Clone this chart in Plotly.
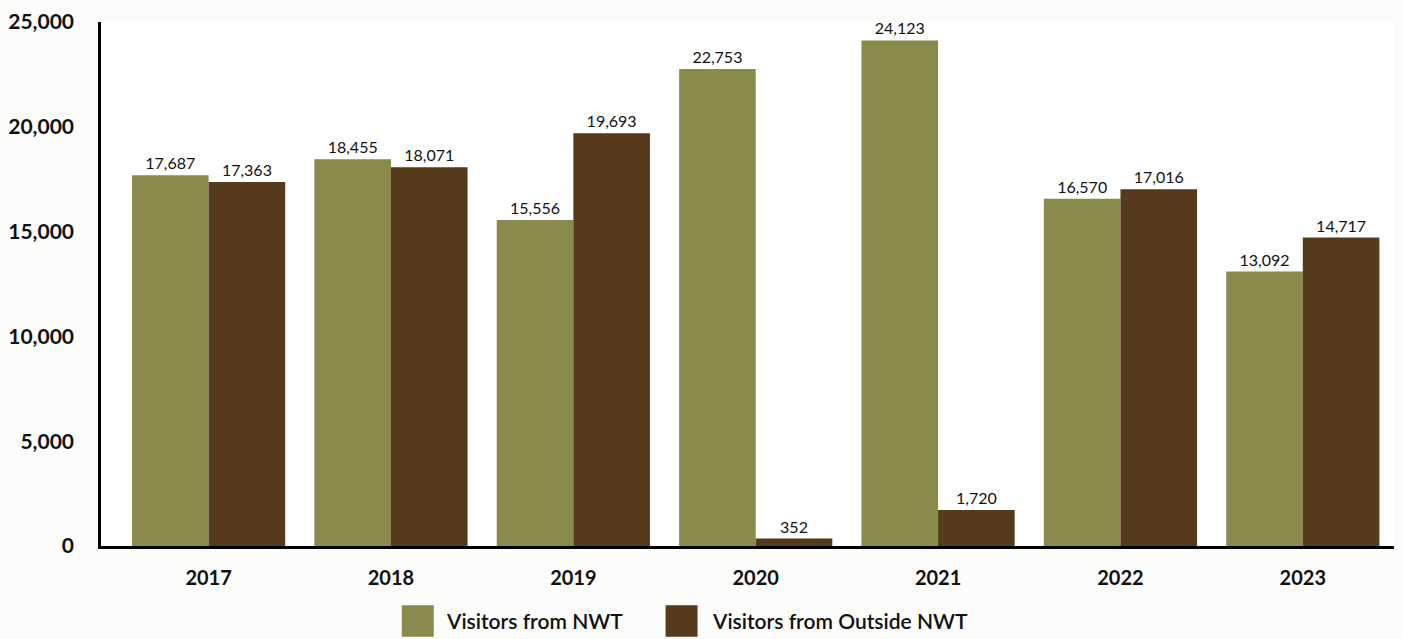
import plotly.graph_objects as go

years = ["2017", "2018", "2019", "2020", "2021", "2022", "2023"]
nwt = [17687, 18455, 15556, 22753, 24123, 16570, 13092]
outside = [17363, 18071, 19693, 352, 1720, 17016, 14717]
series_names = ["Visitors from NWT", "Visitors from Outside NWT"]
y_ticks = [0, 5000, 10000, 15000, 20000, 25000]

c_nwt = "#8A8A4D"
c_out = "#553A1B"
font_family = "Lato, 'Open Sans', sans-serif"

W, H = 1402, 639
L, R, T, B = 100, 8, 15, 93
pw = W - L - R
ph = H - T - B

def px_x(x):
    return (x - L) / pw

def px_y(y):
    return (H - B - y) / ph

fig = go.Figure()
for name, vals, col in [(series_names[0], nwt, c_nwt), (series_names[1], outside, c_out)]:
    fig.add_trace(go.Bar(
        x=years, y=vals, name=name, marker=dict(color=col, line=dict(width=0)),
        text=[f"{v:,}" for v in vals], textposition="outside",
        textfont=dict(size=16, color="#111111", family=font_family),
        cliponaxis=False, showlegend=False,
    ))

# manual legend (large swatches)
legend_items = [(series_names[0], c_nwt, 401, 443), (series_names[1], c_out, 665, 709)]
shapes = []
annotations = []
for name, col, sx, tx in legend_items:
    shapes.append(dict(type="rect", xref="paper", yref="paper",
                       x0=px_x(sx), x1=px_x(sx + 32), y0=px_y(606), y1=px_y(638),
                       fillcolor=col, line=dict(width=0), layer="above"))
    annotations.append(dict(xref="paper", yref="paper", x=px_x(tx), y=px_y(622),
                            text=name, showarrow=False, xanchor="left", yanchor="middle",
                            font=dict(size=21, color="#111111", family=font_family, weight=600)))

fig.update_layout(
    width=W, height=H,
    margin=dict(l=L, r=R, t=T, b=B, pad=0),
    paper_bgcolor="#FCFCFA", plot_bgcolor="#FFFFFF",
    barmode="group", bargap=0.16, bargroupgap=0,
    font=dict(family=font_family, color="#111111"),
    shapes=shapes, annotations=annotations,
    showlegend=False,
)
fig.update_xaxes(
    range=[-0.59, 6.5], showgrid=False, showline=True, linecolor="#000000", linewidth=2.5,
    ticks="", tickfont=dict(size=20, color="#111111", family=font_family, weight="bold"),
    ticklabelstandoff=12,
)
fig.update_yaxes(
    range=[0, 25000], tickvals=y_ticks, ticktext=[f"{v:,}" for v in y_ticks],
    showgrid=False, zeroline=False, showline=True, linecolor="#000000", linewidth=2.5,
    ticks="", tickfont=dict(size=21, color="#111111", family=font_family, weight="bold"),
    ticklabelstandoff=20,
)

fig.write_html("out.html", config={"displayModeBar": False},
               post_script="document.body.style.margin='0';document.body.style.overflow='hidden';")
